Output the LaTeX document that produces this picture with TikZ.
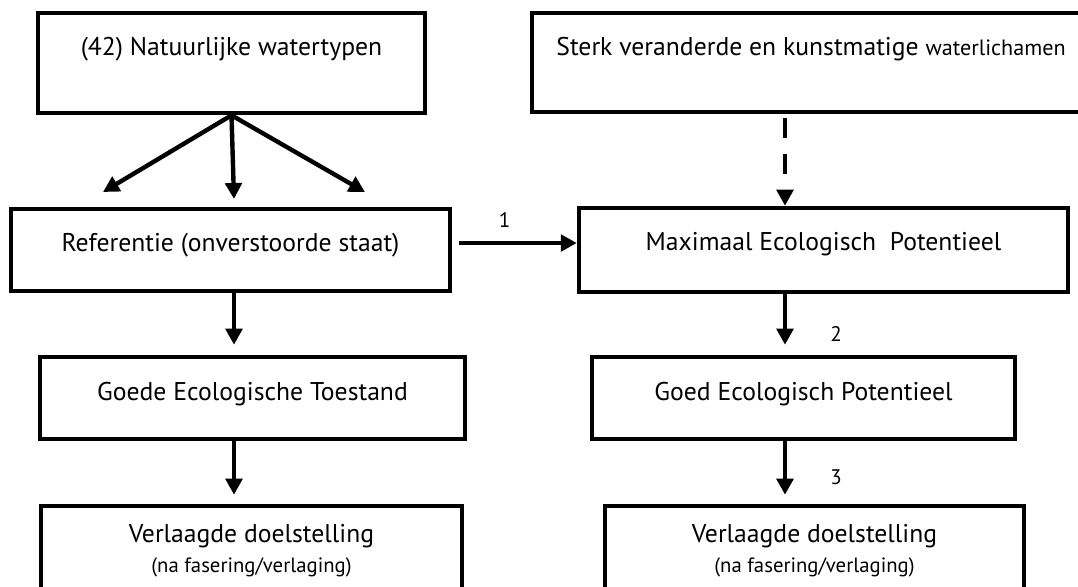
\documentclass[tikz,border=0pt]{standalone}
\usepackage{fontspec}
\setmainfont{PT Sans}
\usetikzlibrary{arrows.meta}

\begin{document}
\begin{tikzpicture}[x=0.02cm,y=-0.02cm,
  frame/.style={draw,line width=2.6pt,inner sep=0pt,align=center,font=\fontsize{14.6}{17}\selectfont},
  box/.style={frame,text height=0.4cm,text depth=#1},
  box/.default=0.4cm,
  link/.style={line width=2.5pt,-{Triangle[length=0.32cm,width=0.33cm]}},
  num/.style={font=\fontsize{12}{14}\selectfont,inner sep=1pt}]
  \useasboundingbox (0,0) rectangle (1078,586);
  \clip (0,0) rectangle (1078,586);
  \coordinate (lcol) at (234,0);
  \coordinate (rcol) at (785,0);
  \node[box=0.72cm,minimum width=7.74cm,minimum height=2cm] (natuur) at (231.5,63) {(42) Natuurlijke watertypen};
  \node[box=0.70cm,minimum width=11.16cm,minimum height=1.98cm] (sterk) at (811,62.5) {Sterk veranderde en kunstmatige {\fontsize{12.6}{14}\selectfont waterlichamen}};
  \node[box=0.36cm,minimum width=8.78cm,minimum height=1.64cm] (referentie) at (230.5,250) {Referentie (onverstoorde staat)};
  \node[box,minimum width=9.78cm,minimum height=1.68cm] (maximaal) at (823.5,250) {Maximaal Ecologisch\ \ Potentieel};
  \node[box=0.32cm,minimum width=8.5cm,minimum height=1.64cm] (goedetoestand) at (252.5,398) {Goede Ecologische Toestand};
  \node[box=0.32cm,minimum width=8.46cm,minimum height=1.64cm] (goedpotentieel) at (803.5,398) {Goed Ecologisch Potentieel};
  \node[frame,minimum width=8.42cm,minimum height=1.8cm] (verlaagdl) at (251.5,551) {Verlaagde doelstelling\\{\fontsize{11.8}{13}\selectfont (na fasering/verlaging)}};
  \node[frame,minimum width=8.38cm,minimum height=1.8cm] (verlaagdr) at (814.5,551) {Verlaagde doelstelling\\{\fontsize{11.8}{13}\selectfont (na fasering/verlaging)}};
  \coordinate (fanl) at (103,192);
  \coordinate (fanm) at (234,199);
  \coordinate (fanr) at (365,192);
  \draw[link] (natuur.south) -- (fanl);
  \draw[link] (natuur.south) -- (fanm);
  \draw[link] (natuur.south) -- (fanr);
  \draw[link,dash pattern=on 0.4cm off 0.32cm,shorten <=0.08cm] (sterk.south -| rcol) -- (maximaal.north -| rcol);
  \draw[link,shorten <=0.14cm] ([yshift=0.14cm]referentie.east) -- ([yshift=0.14cm]referentie.east -| maximaal.west) node[num,midway,above=0.24cm,xshift=-0.2cm] {1};
  \draw[link,shorten >=0.2cm] (referentie.south -| lcol) -- (goedetoestand.north -| lcol);
  \draw[link,shorten >=0.18cm] (goedetoestand.south -| lcol) -- (verlaagdl.north -| lcol);
  \draw[link,shorten >=0.2cm] (maximaal.south -| rcol) -- (goedpotentieel.north -| rcol) node[num,pos=0.65,right=0.83cm] {2};
  \draw[link,shorten >=0.18cm] (goedpotentieel.south -| rcol) -- (verlaagdr.north -| rcol) node[num,pos=0.57,right=0.83cm] {3};
\end{tikzpicture}
\end{document}
